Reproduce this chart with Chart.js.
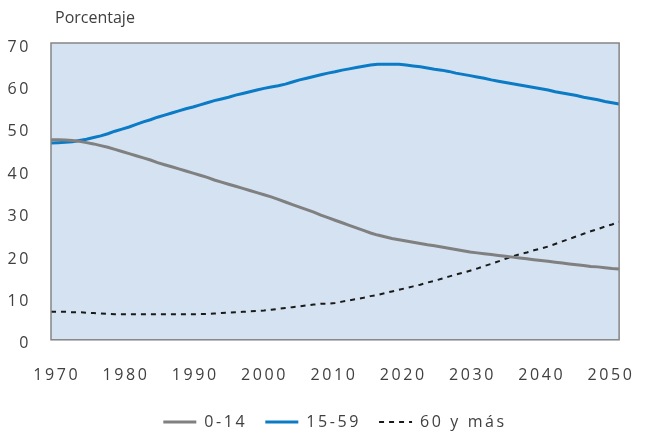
<!DOCTYPE html>
<html>
<head>
<meta charset="utf-8">
<script src="https://cdn.jsdelivr.net/npm/chart.js@4"></script>
<style>
  body { margin: 0; background: #fff; }
  canvas { display: block; }
</style>
</head>
<body>
<canvas id="myCanvas" width="653" height="431"></canvas>
<script>
const years = [];
for (let y = 1970; y <= 2050; y++) years.push(y);

const tickYears = [1970, 1980, 1990, 2000, 2010, 2020, 2030, 2040, 2050];

const age0to14 = [
  47.2, 47.2, 47.1, 47.0, 46.8, 46.5, 46.2, 45.8, 45.4, 44.9,
  44.4, 43.9, 43.4, 42.9, 42.4, 41.8, 41.3, 40.8, 40.3, 39.8,
  39.3, 38.8, 38.3, 37.7, 37.2, 36.7, 36.2, 35.7, 35.2, 34.7,
  34.2, 33.7, 33.1, 32.5, 31.9, 31.3, 30.7, 30.1, 29.4, 28.8,
  28.2, 27.6, 27.0, 26.4, 25.8, 25.2, 24.7, 24.3, 23.9, 23.6,
  23.3, 23.0, 22.7, 22.4, 22.2, 21.9, 21.6, 21.3, 21.0, 20.7,
  20.5, 20.3, 20.1, 19.9, 19.7, 19.5, 19.3, 19.1, 18.9, 18.7,
  18.5, 18.3, 18.1, 17.9, 17.7, 17.5, 17.3, 17.2, 17.0, 16.8,
  16.7
];

const age15to59 = [
  46.4, 46.5, 46.6, 46.7, 47.0, 47.3, 47.7, 48.1, 48.6, 49.2,
  49.7, 50.2, 50.8, 51.4, 51.9, 52.5, 53.0, 53.5, 54.0, 54.5,
  54.9, 55.4, 55.9, 56.4, 56.8, 57.2, 57.7, 58.1, 58.5, 58.9,
  59.3, 59.6, 59.9, 60.3, 60.8, 61.3, 61.7, 62.1, 62.5, 62.9,
  63.2, 63.6, 63.9, 64.2, 64.5, 64.8, 65.0, 65.0, 65.0, 65.0,
  64.8, 64.6, 64.4, 64.1, 63.8, 63.6, 63.3, 62.9, 62.6, 62.3,
  62.0, 61.7, 61.3, 61.0, 60.7, 60.4, 60.1, 59.8, 59.5, 59.2,
  58.9, 58.5, 58.2, 57.9, 57.6, 57.2, 56.9, 56.6, 56.2, 55.9,
  55.6
];

const age60plus = [
  6.6, 6.6, 6.6, 6.5, 6.5, 6.4, 6.3, 6.2, 6.1, 6.0,
  6.0, 6.0, 6.0, 6.0, 6.0, 6.0, 6.0, 6.0, 6.0, 6.0,
  6.0, 6.1, 6.1, 6.2, 6.3, 6.4, 6.5, 6.6, 6.7, 6.8,
  6.9, 7.1, 7.3, 7.5, 7.7, 7.9, 8.1, 8.3, 8.5, 8.5,
  8.7, 9.0, 9.3, 9.6, 9.9, 10.3, 10.6, 11.0, 11.4, 11.8,
  12.2, 12.6, 13.0, 13.5, 13.9, 14.4, 14.9, 15.4, 15.8, 16.3,
  16.8, 17.4, 17.9, 18.5, 19.1, 19.7, 20.2, 20.6, 21.1, 21.5,
  22.0, 22.6, 23.2, 23.8, 24.4, 25.0, 25.6, 26.1, 26.7, 27.2,
  27.8
];

const seriesNames = ['0-14', '15-59', '60 y más'];
const yTicks = [0, 10, 20, 30, 40, 50, 60, 70];

const FONT = "'Open Sans', 'DejaVu Sans', sans-serif";
const TEXT = '#404040';
const SPACING = '2.6px';

const toPoints = vals => vals.map((v, i) => ({ x: years[i], y: v }));

// letter spacing is part of the context state, so set it again whenever the canvas may be reset
const spacing = {
  id: 'spacing',
  afterInit(chart) { chart.ctx.letterSpacing = SPACING; },
  beforeUpdate(chart) { chart.ctx.letterSpacing = SPACING; },
  beforeDraw(chart) { chart.ctx.letterSpacing = SPACING; }
};

const plotBox = {
  id: 'plotBox',
  beforeDatasetsDraw(chart) {
    const { ctx, chartArea: a } = chart;
    ctx.save();
    ctx.fillStyle = '#d4e2f1';
    ctx.fillRect(a.left, a.top, a.right - a.left, a.bottom - a.top);
    ctx.restore();
  },
  afterDatasetsDraw(chart) {
    const { ctx, chartArea: a } = chart;
    ctx.save();
    ctx.strokeStyle = '#858585';
    ctx.lineWidth = 1.5;
    ctx.strokeRect(a.left, a.top, a.right - a.left, a.bottom - a.top);
    ctx.restore();
  },
  afterDraw(chart) {
    const ctx = chart.ctx;
    ctx.save();
    ctx.letterSpacing = '0px';
    ctx.font = '16px ' + FONT;
    ctx.fillStyle = TEXT;
    ctx.textBaseline = 'middle';
    ctx.fillText('Porcentaje', 55, 18);
    ctx.restore();
  }
};

const data = {
  datasets: [{
    label: seriesNames[0],
    data: toPoints(age0to14),
    borderColor: '#808080',
    backgroundColor: '#808080',
    borderWidth: 3
  },
  {
    label: seriesNames[1],
    data: toPoints(age15to59),
    borderColor: '#0b7bc6',
    backgroundColor: '#0b7bc6',
    borderWidth: 3
  },
  {
    label: seriesNames[2],
    data: toPoints(age60plus),
    borderColor: '#1a1a1a',
    backgroundColor: '#1a1a1a',
    borderWidth: 2,
    borderDash: [5, 5]
  }]
};

const config = {
  type: 'line',
  data: data,
  plugins: [spacing, plotBox],
  options: {
    responsive: false,
    animation: false,
    elements: { point: { radius: 0 }, line: { tension: 0 } },
    layout: { padding: { top: 43, right: 26, left: 0, bottom: -9 } },
    scales: {
      x: {
        type: 'linear',
        min: 1970,
        max: 2050,
        display: false
      },
      xl: {
        type: 'linear',
        position: 'bottom',
        min: 1969.17,
        max: 2051.17,
        grid: { display: false },
        border: { display: false },
        afterBuildTicks: axis => { axis.ticks = tickYears.map(v => ({ value: v })); },
        afterFit: axis => { axis.height -= 7; },
        ticks: {
          autoSkip: false,
          maxRotation: 0,
          padding: 18,
          color: TEXT,
          font: { family: FONT, size: 16 },
          callback: v => String(v)
        }
      },
      y: {
        min: 0,
        max: 70,
        grid: { display: false },
        border: { display: false },
        afterBuildTicks: axis => { axis.ticks = yTicks.map(v => ({ value: v })); },
        afterFit: axis => { axis.width = 51; },
        ticks: {
          padding: 12,
          labelOffset: 4,
          color: TEXT,
          font: { family: FONT, size: 16 }
        }
      }
    },
    plugins: {
      tooltip: { enabled: false },
      legend: {
        position: 'bottom',
        fullSize: false,
        labels: {
          usePointStyle: true,
          pointStyle: 'line',
          pointStyleWidth: 33,
          padding: 18,
          color: TEXT,
          font: { family: FONT, size: 16 },
          generateLabels: chart => chart.data.datasets.map((ds, i) => ({
            text: ds.label,
            datasetIndex: i,
            fillStyle: ds.borderColor,
            strokeStyle: ds.borderColor,
            lineWidth: ds.borderWidth,
            lineDash: ds.borderDash || [],
            pointStyle: 'line',
            fontColor: TEXT,
            hidden: false
          }))
        }
      }
    }
  }
};

const myChart = new Chart(document.getElementById('myCanvas'), config);
</script>
</body>
</html>
